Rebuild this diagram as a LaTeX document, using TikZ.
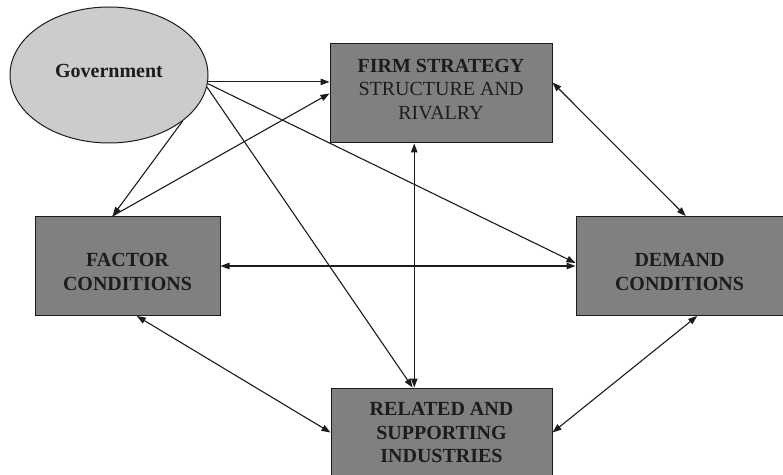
\documentclass[tikz,border=0pt]{standalone}
\usepackage{fontspec}
\setmainfont{Liberation Serif}
\usetikzlibrary{shapes.geometric,arrows.meta,calc}
\definecolor{boxgray}{RGB}{128,128,128}
\definecolor{ovalgray}{RGB}{204,204,204}
\definecolor{inkgray}{RGB}{28,28,28}
\tikzset{
  forcebox/.style={draw=inkgray, line width=1pt, fill=boxgray,
    minimum height=99pt, inner sep=0pt},
  forcetext/.style={text=inkgray, inner sep=0pt, align=center,
    font=\fontsize{20}{23.5}\selectfont\bfseries},
  link/.style={draw=inkgray, line width=1.1pt, -{Triangle[length=9pt,width=6.5pt]}},
  twoway/.style={link, {Triangle[length=9pt,width=6.5pt]}-{Triangle[length=9pt,width=6.5pt]}}
}
\begin{document}
\begin{tikzpicture}[x=1pt,y=1pt]
    \useasboundingbox[fill=white] (0,0) rectangle (783,474);
    % Government
    \node[ellipse, draw=inkgray, line width=1pt, fill=ovalgray,
      minimum width=198pt, minimum height=136pt, inner sep=0pt] (gov) at (109,399) {};
    \node[forcetext] (govtext) at ([yshift=4pt]gov.center) {Government};

    % the four corners of the diamond
    \node[forcebox, minimum width=222pt] (firm) at (441,380.5) {};
    \node[forcetext] (firmtext) at ([yshift=4pt]firm.center)
      {FIRM STRATEGY\\\mdseries STRUCTURE AND\\\mdseries RIVALRY};
    \node[forcebox, minimum width=185pt] (factor) at (127.5,208) {};
    \node[forcetext] (factortext) at ([yshift=-6pt]factor.center) {FACTOR\\CONDITIONS};
    \node[forcebox, minimum width=207pt] (demand) at (679.5,208) {};
    \node[forcetext] (demandtext) at ([yshift=-6pt]demand.center) {DEMAND\\CONDITIONS};
    \node[forcebox, minimum width=221pt] (related) at (441.5,36.5) {};
    \node[forcetext] (relatedtext) at ([yshift=5pt]related.center)
      {RELATED AND\\SUPPORTING\\INDUSTRIES};

    % Government influences
    \draw[link] (gov.-4) -- (gov.-4 -| firm.west);
    \coordinate (factortop) at ($(factor.north west)!0.42!(factor.north east)$);
    \draw[link] (gov.-32) -- (factortop);
    \draw[link] (gov.-5) -- ($(demand.north west)!0.47!(demand.south west)$);
    \draw[link] (gov.-7) -- ($(related.north west)!0.37!(related.north east)$);

    % between the four forces
    \draw[link] (factortop) -- (firm.west);
    \draw[twoway] (factor.east) -- (demand.west);
    \coordinate (firmfoot) at ($(firm.south west)!0.38!(firm.south east)$);
    \draw[twoway] (firmfoot) -- (firmfoot |- related.north);
    \draw[twoway] ($(firm.north east)!0.39!(firm.south east)$)
      -- ($(demand.north west)!0.53!(demand.north east)$);
    \draw[twoway] ($(factor.south west)!0.55!(factor.south east)$)
      -- ($(related.north west)!0.45!(related.south west)$);
    \draw[twoway] ($(demand.south west)!0.585!(demand.south east)$)
      -- ($(related.north east)!0.45!(related.south east)$);
\end{tikzpicture}
\end{document}
